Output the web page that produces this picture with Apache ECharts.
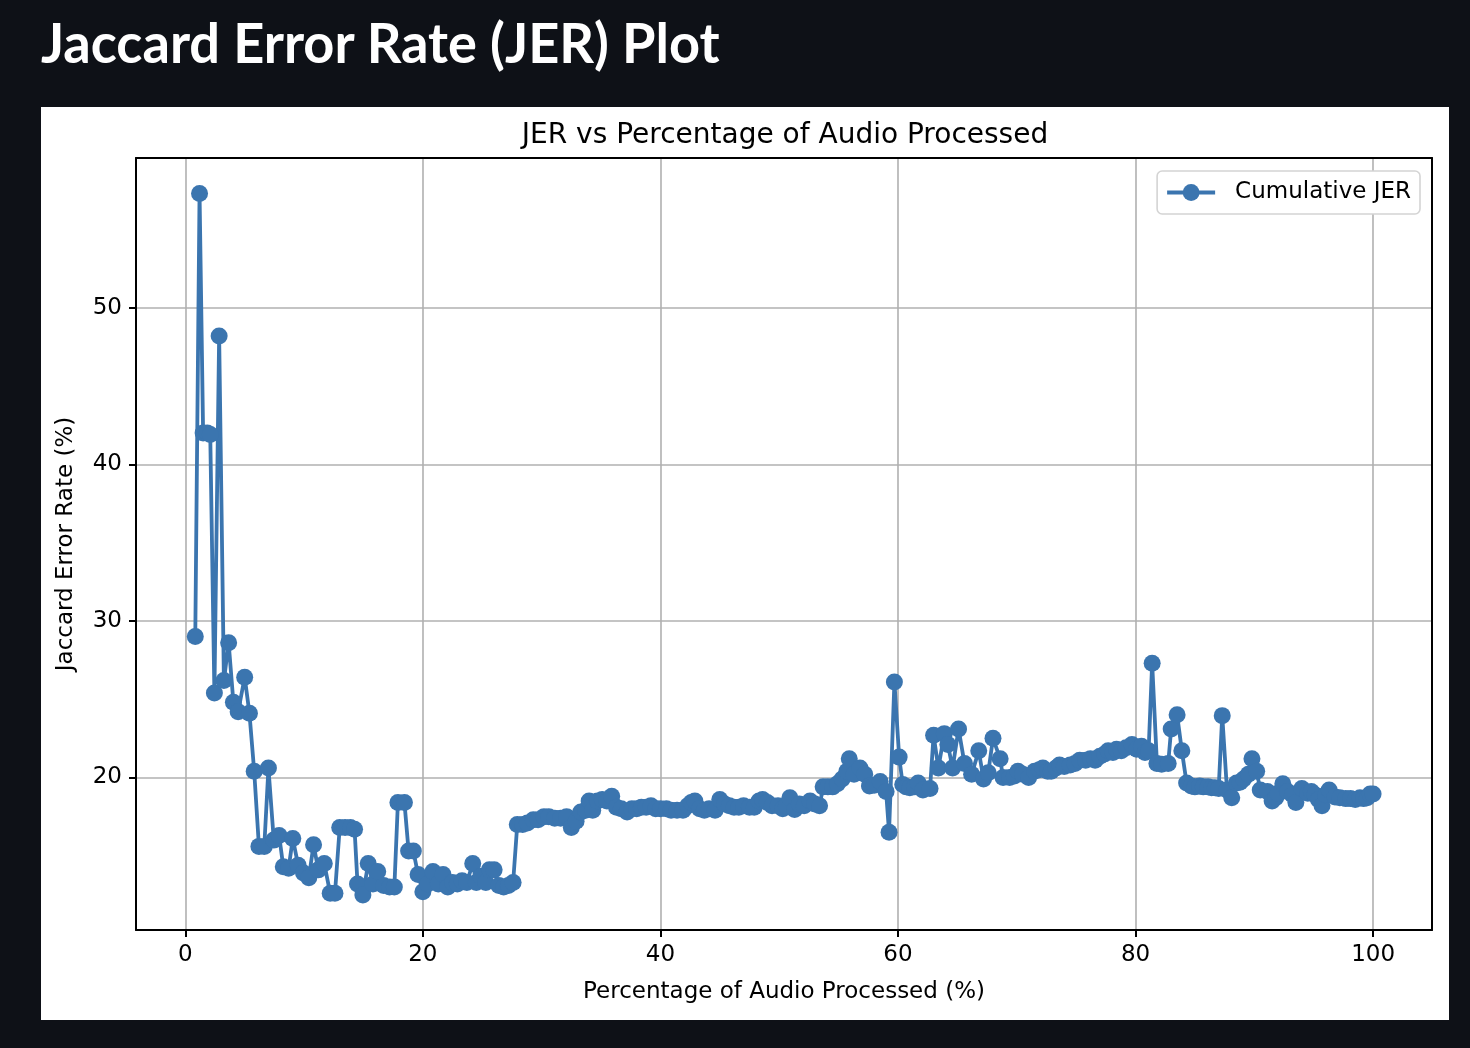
<!DOCTYPE html>
<html>
<head>
<meta charset="utf-8">
<title>JER Plot</title>
<script src="https://cdn.jsdelivr.net/npm/echarts@6/dist/echarts.min.js"></script>
<style>
  html, body { margin: 0; padding: 0; background: #0e1117; }
  #title {
    position: absolute; left: 41px; top: 9px;
    color: #fff; font-family: Lato, 'Noto Sans', sans-serif; font-weight: 700;
    font-size: 55px; white-space: nowrap; transform-origin: 0 0;
  }
  #panel { position: absolute; left: 41px; top: 107px; width: 1408px; height: 913px; background: #fff; }
  #chart { width: 1408px; height: 913px; }
</style>
</head>
<body>
<div id="title">Jaccard Error Rate (JER) Plot</div>
<div id="panel"><div id="chart"></div></div>
<script>
  'use strict'

  // percentage of audio processed (x) and cumulative JER (y)
  var pct = [
    0.84, 1.2, 1.5, 1.85, 2.1, 2.45, 2.85, 3.25, 3.65, 4.05, 4.45, 5.0, 5.4, 5.8, 6.2, 6.65, 7.0, 7.45, 7.9, 8.25,
    8.7, 9.05, 9.5, 9.95, 10.4, 10.8, 11.2, 11.7, 12.2, 12.6, 13.0, 13.45, 13.9, 14.25, 14.5, 14.95, 15.4, 15.8, 16.2, 16.7,
    17.2, 17.6, 17.9, 18.45, 18.8, 19.2, 19.6, 20.0, 20.4, 20.85, 21.3, 21.7, 22.1, 22.5, 22.9, 23.3, 23.7, 24.2, 24.5, 24.9,
    25.3, 25.6, 26.0, 26.4, 26.8, 27.2, 27.6, 27.95, 28.4, 28.8, 29.3, 29.7, 30.2, 30.6, 31.1, 31.6, 32.1, 32.5, 32.9, 33.3,
    33.7, 34.0, 34.3, 34.7, 35.1, 35.5, 35.9, 36.3, 36.7, 37.2, 37.6, 38.0, 38.4, 38.8, 39.2, 39.6, 40.0, 40.5, 40.9, 41.4,
    41.9, 42.3, 42.6, 42.9, 43.3, 43.7, 44.1, 44.6, 45.0, 45.4, 45.8, 46.2, 46.6, 47.0, 47.5, 47.9, 48.3, 48.6, 49.0, 49.4,
    49.9, 50.3, 50.6, 50.9, 51.3, 51.7, 52.1, 52.6, 53.0, 53.4, 53.7, 54.1, 54.5, 54.9, 55.3, 55.7, 55.9, 56.3, 56.8, 57.2,
    57.6, 58.0, 58.5, 59.0, 59.25, 59.7, 60.1, 60.4, 60.7, 61.0, 61.4, 61.7, 62.1, 62.7, 63.0, 63.4, 63.9, 64.2, 64.6, 65.1,
    65.6, 66.2, 66.8, 67.2, 67.6, 68.0, 68.6, 68.85, 69.4, 69.8, 70.1, 70.5, 71.0, 71.5, 71.9, 72.2, 72.6, 72.9, 73.3, 73.6,
    74.0, 74.5, 74.9, 75.3, 75.8, 76.2, 76.6, 77.0, 77.4, 77.7, 78.1, 78.4, 78.8, 79.2, 79.7, 80.1, 80.5, 80.8, 81.1, 81.4,
    81.8, 82.2, 82.75, 83.0, 83.5, 83.9, 84.3, 84.7, 85.0, 85.4, 85.7, 86.1, 86.4, 86.7, 87.0, 87.3, 87.7, 88.1, 88.5, 88.8,
    89.1, 89.5, 89.8, 90.2, 90.5, 91.1, 91.5, 91.8, 92.0, 92.4, 92.8, 93.2, 93.5, 94.0, 94.5, 94.8, 95.1, 95.4, 95.7, 96.0,
    96.3, 96.8, 97.2, 97.7, 98.1, 98.5, 98.9, 99.2, 99.5, 99.75, 100.0
  ];
  var jer = [
    29.0, 57.3, 42.0, 42.0, 41.9, 25.4, 48.2, 26.2, 28.6, 24.8, 24.2, 26.4, 24.1, 20.4, 15.6, 15.6, 20.6, 16.0, 16.3, 14.3,
    14.2, 16.1, 14.4, 13.9, 13.6, 15.7, 14.1, 14.5, 12.6, 12.6, 16.8, 16.8, 16.8, 16.7, 13.2, 12.5, 14.5, 13.2, 14.0, 13.1,
    13.0, 13.0, 18.4, 18.4, 15.3, 15.3, 13.8, 12.7, 13.2, 14.0, 13.2, 13.8, 13.0, 13.3, 13.2, 13.4, 13.3, 14.5, 13.3, 13.7,
    13.3, 14.1, 14.1, 13.1, 13.0, 13.1, 13.3, 17.0, 17.0, 17.1, 17.3, 17.3, 17.5, 17.5, 17.4, 17.4, 17.5, 16.8, 17.2, 17.8,
    17.9, 18.5, 17.9, 18.5, 18.6, 18.5, 18.8, 18.1, 18.0, 17.8, 18.0, 18.0, 18.1, 18.1, 18.2, 18.0, 18.0, 18.0, 17.9, 17.9,
    17.9, 18.2, 18.4, 18.5, 18.0, 17.9, 18.0, 17.9, 18.6, 18.3, 18.2, 18.1, 18.1, 18.2, 18.1, 18.1, 18.5, 18.6, 18.4, 18.2,
    18.2, 18.0, 18.2, 18.7, 17.95, 18.3, 18.2, 18.5, 18.3, 18.2, 19.4, 19.4, 19.4, 19.6, 19.9, 20.4, 21.2, 20.2, 20.6, 20.2,
    19.45, 19.5, 19.75, 19.1, 16.5, 26.1, 21.3, 19.55, 19.4, 19.35, 19.4, 19.65, 19.2, 19.3, 22.7, 20.6, 22.8, 22.1, 20.6, 23.1,
    20.9, 20.2, 21.7, 19.9, 20.3, 22.5, 21.2, 20.0, 20.0, 20.1, 20.4, 20.2, 20.0, 20.4, 20.5, 20.6, 20.4, 20.4, 20.6, 20.8,
    20.7, 20.8, 20.9, 21.1, 21.1, 21.2, 21.1, 21.35, 21.5, 21.7, 21.6, 21.8, 21.7, 21.9, 22.1, 21.8, 22.0, 21.6, 21.7, 27.3,
    20.9, 20.85, 20.9, 23.1, 24.0, 21.7, 19.65, 19.45, 19.4, 19.45, 19.4, 19.4, 19.35, 19.35, 19.3, 23.95, 19.2, 18.7, 19.65, 19.7,
    19.9, 20.2, 21.2, 20.4, 19.2, 19.1, 18.5, 18.7, 19.0, 19.6, 19.1, 18.9, 18.4, 19.3, 19.0, 19.1, 18.9, 18.6, 18.2, 18.9,
    19.2, 18.75, 18.7, 18.65, 18.65, 18.6, 18.7, 18.65, 18.7, 18.95, 18.95
  ];

  var xRange = [-4.15, 104.96];
  var yRange = [10.26, 59.56];

  // fit page heading to the reference width
  var head = document.getElementById('title');
  head.style.transform = 'scaleX(' + (679 / head.offsetWidth) + ')';

  var points = pct.map(function (p, i) { return [p, jer[i]]; });

  var blue = '#3b75af';
  var font = "'DejaVu Sans', sans-serif";
  var frame = { show: true, onZero: false, lineStyle: { color: '#000', width: 2 } };
  var tick = { show: true, length: 7, lineStyle: { color: '#000', width: 2 } };
  var grid = { show: true, lineStyle: { color: '#b0b0b0', width: 1.6 } };

  var chart = echarts.init(document.getElementById('chart'));
  chart.setOption({
    animation: false,
    backgroundColor: '#fff',
    title: {
      text: 'JER vs Percentage of Audio Processed',
      left: 739, top: 10, textAlign: 'center',
      textStyle: { fontFamily: font, fontSize: 28, fontWeight: 'normal', color: '#000' }
    },
    legend: {
      data: ['Cumulative JER'],
      right: 29, top: 64,
      itemWidth: 48, itemHeight: 21,
      padding: [10, 9, 10, 8],
      borderColor: '#d4d4d4', borderWidth: 1.6, borderRadius: 5,
      backgroundColor: '#fff',
      lineStyle: { width: 4, color: blue },
      textStyle: { fontFamily: font, fontSize: 23, color: '#000', padding: [0, 0, 0, 15] }
    },
    grid: { left: 95, top: 51, right: 17, bottom: 90 },
    xAxis: [{
      type: 'value', min: xRange[0], max: xRange[1], splitNumber: 5,
      name: 'Percentage of Audio Processed (%)', nameLocation: 'middle', nameGap: 51,
      nameTextStyle: { fontFamily: font, fontSize: 23, color: '#000' },
      axisLine: frame, axisTick: tick,
      axisLabel: { fontFamily: font, fontSize: 23, color: '#000', margin: 14, showMinLabel: false, showMaxLabel: false },
      splitLine: grid
    }, {
      type: 'value', position: 'top', min: xRange[0], max: xRange[1],
      axisLine: frame, axisTick: { show: false }, axisLabel: { show: false }, splitLine: { show: false }
    }],
    yAxis: [{
      type: 'value', min: yRange[0], max: yRange[1], splitNumber: 5,
      name: 'Jaccard Error Rate (%)', nameLocation: 'middle', nameGap: 58,
      nameTextStyle: { fontFamily: font, fontSize: 23, color: '#000' },
      axisLine: frame, axisTick: tick,
      axisLabel: { fontFamily: font, fontSize: 23, color: '#000', margin: 14, showMinLabel: false, showMaxLabel: false },
      splitLine: grid
    }, {
      type: 'value', position: 'right', min: yRange[0], max: yRange[1],
      axisLine: frame, axisTick: { show: false }, axisLabel: { show: false }, splitLine: { show: false }
    }],
    series: [{
      name: 'Cumulative JER',
      type: 'line',
      data: points,
      symbol: 'circle',
      symbolSize: 17,
      showSymbol: true,
      showAllSymbol: true,
      lineStyle: { color: blue, width: 3.8 },
      itemStyle: { color: blue, borderWidth: 0 },
      emphasis: { disabled: true }
    }]
  });
</script>
</body>
</html>
